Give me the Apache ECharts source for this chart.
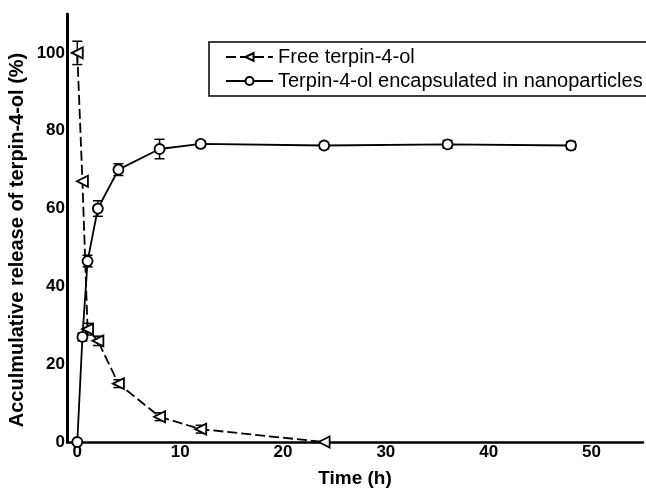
<!DOCTYPE html>
<html>
<head>
<meta charset="utf-8">
<script src="https://cdn.jsdelivr.net/npm/echarts@6/dist/echarts.min.js"></script>
<style>
  html, body { margin: 0; padding: 0; background: #fff; }
  #chart { width: 646px; height: 488px; }
</style>
</head>
<body>
<div id="chart"></div>
<script>
  // time points (h)
  const freeTime = [0, 0.5, 1, 2, 4, 8, 12, 24]
  const freeRelease = [100, 67, 29, 26, 15, 6.5, 3.3, 0]
  const freeError = [3, 0, 1.5, 1.2, 1, 1, 1, 0]

  const nanoTime = [0, 0.5, 1, 2, 4, 8, 12, 24, 36, 48]
  const nanoRelease = [0, 27, 46.5, 60, 70, 75.3, 76.6, 76.2, 76.5, 76.2]
  const nanoError = [0, 1, 1.5, 2, 1.5, 2.5, 0.8, 0.8, 1, 1]

  const xTicks = [0, 10, 20, 30, 40, 50]
  const yTicks = [0, 20, 40, 60, 80, 100]

  const font = 'Liberation Sans, Arial, sans-serif'
  const triLeft = 'path://M0,5 L10,0 L10,10 Z'

  function pairs(xs, ys) {
    return xs.map(function (x, i) { return [x, ys[i]] })
  }

  // error bars as a custom series: [x, low, high]
  function errorData(xs, ys, es) {
    return xs.map(function (x, i) { return [x, ys[i] - es[i], ys[i] + es[i]] })
  }

  function renderError(params, api) {
    const x = api.value(0)
    const lo = api.coord([x, api.value(1)])
    const hi = api.coord([x, api.value(2)])
    const w = 5
    const style = { stroke: '#000', lineWidth: 1.5 }
    return {
      type: 'group',
      children: [
        { type: 'line', shape: { x1: lo[0], y1: lo[1], x2: hi[0], y2: hi[1] }, style: style },
        { type: 'line', shape: { x1: lo[0] - w, y1: lo[1], x2: lo[0] + w, y2: lo[1] }, style: style },
        { type: 'line', shape: { x1: hi[0] - w, y1: hi[1], x2: hi[0] + w, y2: hi[1] }, style: style }
      ]
    }
  }

  const chart = echarts.init(document.getElementById('chart'), null, { renderer: 'canvas' })

  chart.setOption({
    animation: false,
    backgroundColor: '#fff',
    grid: { left: 67, right: 3, top: 14, bottom: 46, containLabel: false, outerBoundsMode: 'none' },
    legend: {
      orient: 'vertical',
      left: 209,
      top: 42,
      padding: [5, 80, 5, 16],
      itemGap: 4,
      itemWidth: 47,
      itemHeight: 10,
      borderColor: '#000',
      borderWidth: 1.5,
      data: ['Free terpin-4-ol', 'Terpin-4-ol encapsulated in nanoparticles'],
      textStyle: { fontFamily: font, fontSize: 20, color: '#000' }
    },
    xAxis: {
      type: 'value',
      min: -1,
      max: 55,
      name: 'Time (h)',
      nameLocation: 'middle',
      nameGap: 27,
      nameMoveOverlap: false,
      nameTextStyle: { fontFamily: font, fontSize: 19, fontWeight: 'bold', color: '#000' },
      axisLine: { onZero: false, lineStyle: { color: '#000', width: 2.5 } },
      axisTick: { show: false },
      splitLine: { show: false },
      axisLabel: {
        customValues: xTicks,
        margin: 2,
        fontFamily: font, fontSize: 17, fontWeight: 'bold', color: '#000'
      }
    },
    yAxis: {
      type: 'value',
      min: 0,
      max: 110,
      name: 'Acculmulative release of terpin-4-ol (%)',
      nameLocation: 'middle',
      nameGap: 40,
      nameMoveOverlap: false,
      nameTextStyle: { fontFamily: font, fontSize: 20, fontWeight: 'bold', color: '#000', padding: [0, 24, 0, 0] },
      axisLine: { show: true, onZero: false, lineStyle: { color: '#000', width: 3 } },
      axisTick: { show: false },
      splitLine: { show: false },
      axisLabel: {
        customValues: yTicks,
        margin: 2,
        fontFamily: font, fontSize: 17, fontWeight: 'bold', color: '#000'
      }
    },
    series: [
      {
        name: 'Free terpin-4-ol',
        type: 'line',
        data: pairs(freeTime, freeRelease),
        symbol: triLeft,
        symbolSize: [11, 11],
        lineStyle: { color: '#000', width: 1.8, type: [10, 4] },
        itemStyle: { color: '#fff', borderColor: '#000', borderWidth: 1.8 },
        z: 3
      },
      {
        name: 'Terpin-4-ol encapsulated in nanoparticles',
        type: 'line',
        data: pairs(nanoTime, nanoRelease),
        symbol: 'circle',
        symbolSize: 10,
        lineStyle: { color: '#000', width: 1.8 },
        itemStyle: { color: '#fff', borderColor: '#000', borderWidth: 1.8 },
        z: 3
      },
      {
        type: 'custom',
        renderItem: renderError,
        data: errorData(freeTime, freeRelease, freeError),
        encode: { x: 0, y: [1, 2] },
        z: 2,
        silent: true
      },
      {
        type: 'custom',
        renderItem: renderError,
        data: errorData(nanoTime, nanoRelease, nanoError),
        encode: { x: 0, y: [1, 2] },
        z: 2,
        silent: true
      }
    ]
  })
</script>
</body>
</html>
